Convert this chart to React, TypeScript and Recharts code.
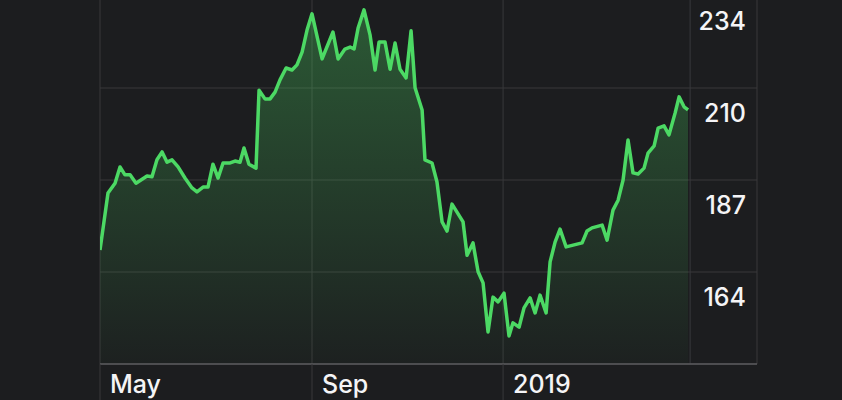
import React from 'react';
import { AreaChart, Area, XAxis, YAxis, CartesianGrid } from 'recharts';

// x position in days from start of chart, closing price
const days = [
  0, 5, 9.4, 12.5, 15.6, 18.8, 22.5, 29.4, 32.5, 35.6, 38.8, 41.9, 45, 48.8, 53.1, 57.5, 60.6, 64.4, 67.5, 70.6,
  73.8, 76.9, 81.3, 84.4, 87.5, 90, 93.1, 97.5, 99.4, 103.1, 106.3, 109.4, 112.5, 116.3, 120, 123.1, 126.3, 129.4,
  132.5, 138.8, 145.6, 148.8, 153.1, 156.3, 158.8, 161.3, 165, 168.8, 171.9, 174.4, 178.1, 181.3, 184.4, 187.5,
  191.3, 194.4, 196.9, 201.3, 203.1, 207.5, 210.6, 213.8, 216.9, 220, 226.9, 229.4, 233.1, 236.3, 239.4, 242.5,
  245.6, 248.8, 252.5, 255.6, 258.1, 261.9, 265, 268.8, 271.9, 275, 278.8, 281.3, 284.4, 287.5, 291.3, 301.3,
  304.4, 307.5, 313.8, 316.9, 320.6, 323.8, 326.9, 330, 333.1, 336.3, 340, 342.5, 346.3, 348.8, 352.5, 355.6,
  359.4, 361.9, 365, 367.5,
];
const prices = [
  169.8, 184.2, 186.7, 190.8, 188.8, 188.8, 186.7, 188.5, 188.3, 192.6, 194.6, 192.0, 192.6, 190.8, 188.0, 185.5, 184.5, 185.7, 185.7, 191.5,
  188.0, 191.8, 191.8, 192.3, 192.0, 195.6, 191.5, 190.5, 210.2, 208.0, 208.0, 209.7, 212.8, 215.8, 215.3, 216.6, 219.8, 225.4,
  229.5, 218.1, 224.9, 218.1, 220.6, 221.1, 220.6, 225.9, 230.5, 224.1, 215.3, 222.4, 222.4, 215.5, 222.1, 215.5,
  213.3, 225.2, 210.8, 205.2, 192.6, 191.8, 187.0, 176.9, 174.6, 181.4, 176.9, 168.5, 171.6, 164.3, 161.5, 149.1,
  157.9, 156.7, 158.9, 148.1, 151.4, 150.3, 155.2, 157.7, 153.9, 158.4, 153.9, 166.8, 171.8, 175.1, 170.6, 171.6,
  174.6, 175.4, 176.1, 172.3, 179.9, 182.4, 187.5, 197.6, 189.3, 189.0, 190.5, 194.3, 196.1, 200.6, 201.2, 198.9,
  204.4, 208.5, 206.0, 205.2,
];

const xTickDays = [0, 132.5, 251.9, 368.8];
const xTickLabels = ['May', 'Sep', '2019', ''];
const xDomainMax = 410.6;

const yTickValues = [141, 164.25, 187.5, 210.75, 234];
const yTickLabels = ['', '164', '187', '210', '234'];

const BG = '#1c1d1f';
const GRID = '#38393b';
const AXIS = '#5a5a5d';
const GREEN = '#4cd964';
const TEXT = '#f4f4f6';
const FONT = 'Inter, "Noto Sans", sans-serif';

const data = days.map((d, i) => ({ d, v: prices[i] }));

const XTick = (props: any) => {
  const { x, y, payload } = props;
  const idx = xTickDays.indexOf(payload.value);
  const label = idx >= 0 ? xTickLabels[idx] : '';
  if (!label) return null;
  return (
    <g>
      <line x1={x} x2={x} y1={y} y2={y + 40} stroke={GRID} strokeWidth={1} />
      <text x={x + 10} y={y + 29} fill={TEXT} fontSize={25} fontWeight={500} fontFamily={FONT} textAnchor="start">
        {label}
      </text>
    </g>
  );
};

const YTick = (props: any) => {
  const { x, y, payload } = props;
  const idx = yTickValues.indexOf(payload.value);
  const label = idx >= 0 ? yTickLabels[idx] : '';
  if (!label) return <g />;
  return (
    <text x={x - 11} y={y + 34} fill={TEXT} fontSize={25} fontWeight={500} fontFamily={FONT} textAnchor="end">
      {label}
    </text>
  );
};

export default function App() {
  return (
    <div style={{ position: 'absolute', left: 0, top: 0, width: 842, height: 400, background: BG, overflow: 'hidden' }}>
      <div style={{ position: 'absolute', left: 0, top: -4 }}>
        <AreaChart width={842} height={404} data={data} margin={{ top: 0, right: 0, bottom: 0, left: 100 }}>
          <defs>
            <linearGradient id="fillGrad" x1="0" y1="0" x2="0" y2="1">
              <stop offset="0%" stopColor={GREEN} stopOpacity={0.32} />
              <stop offset="100%" stopColor={GREEN} stopOpacity={0.02} />
            </linearGradient>
          </defs>
          <CartesianGrid stroke={GRID} strokeWidth={1} />
          <XAxis
            dataKey="d"
            type="number"
            domain={[0, xDomainMax]}
            ticks={xTickDays}
            interval={0}
            height={36}
            tickSize={0}
            tickMargin={0}
            tickLine={false}
            axisLine={{ stroke: AXIS, strokeWidth: 1.5 }}
            tick={<XTick />}
            allowDataOverflow
          />
          <YAxis
            orientation="right"
            type="number"
            domain={[141, 234]}
            ticks={yTickValues}
            interval={0}
            width={85}
            tickSize={0}
            tickMargin={0}
            tickLine={false}
            axisLine={false}
            tick={<YTick />}
            allowDataOverflow
          />
          <Area
            type="linear"
            dataKey="v"
            stroke={GREEN}
            strokeWidth={3.5}
            strokeLinejoin="round"
            fill="url(#fillGrad)"
            fillOpacity={1}
            dot={false}
            activeDot={false}
            isAnimationActive={false}
          />
        </AreaChart>
      </div>
    </div>
  );
}
